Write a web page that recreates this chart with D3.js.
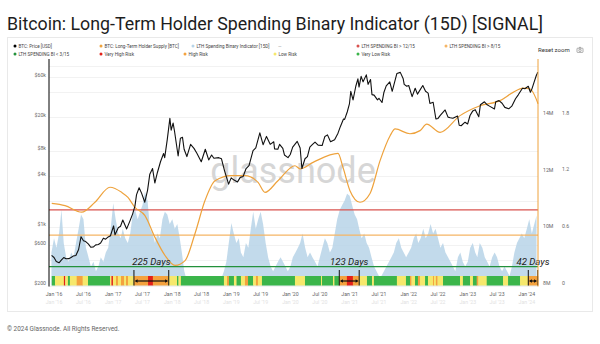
<!DOCTYPE html>
<html><head><meta charset="utf-8">
<script src="https://cdn.jsdelivr.net/npm/d3@7"></script>
<style>
html,body{margin:0;padding:0;background:#fff;}
svg{display:block;font-family:Roboto,"Noto Sans",sans-serif;}
</style></head><body>
<svg id="chart" width="600" height="344"></svg>
<script>
// ---------------- DATA ----------------
const titleText = "Bitcoin: Long-Term Holder Spending Binary Indicator (15D) [SIGNAL]";
const footerText = "© 2024 Glassnode. All Rights Reserved.";

// BTC price [USD]
const priceSeries = [
["2015-12-17",455],["2016-01-01",430],["2016-01-15",385],["2016-02-01",372],["2016-02-15",400],["2016-03-01",430],["2016-03-15",415],
["2016-04-01",417],["2016-04-15",430],["2016-05-01",450],["2016-05-15",455],["2016-06-01",535],["2016-06-16",760],["2016-07-01",680],
["2016-07-15",665],["2016-08-01",620],["2016-08-15",570],["2016-09-01",575],["2016-09-15",608],["2016-10-01",615],["2016-10-15",640],
["2016-11-01",730],["2016-11-15",710],["2016-12-01",755],["2016-12-15",780],["2017-01-03",1020],["2017-01-12",800],["2017-02-01",970],
["2017-02-15",1010],["2017-03-01",1200],["2017-03-25",940],["2017-04-15",1180],["2017-05-01",1420],["2017-05-15",1750],["2017-05-25",2400],
["2017-06-10",2900],["2017-06-25",2500],["2017-07-15",1950],["2017-08-01",2700],["2017-08-15",4200],["2017-09-01",4900],["2017-09-15",3300],
["2017-10-01",4400],["2017-10-20",5900],["2017-11-08",7400],["2017-11-15",6600],["2017-12-01",10900],["2017-12-17",19300],["2017-12-25",14000],
["2018-01-06",17000],["2018-01-15",13500],["2018-02-06",6900],["2018-02-20",11200],["2018-03-05",11500],["2018-03-15",8300],["2018-04-01",6800],
["2018-04-24",9500],["2018-05-15",8500],["2018-06-01",7500],["2018-06-29",5900],["2018-07-24",8300],["2018-08-14",6200],["2018-09-01",7100],
["2018-09-15",6500],["2018-10-15",6600],["2018-11-01",6400],["2018-11-20",4600],["2018-12-15",3200],["2018-12-31",3800],["2019-01-15",3600],
["2019-02-08",3400],["2019-02-25",3850],["2019-03-15",3950],["2019-04-02",4900],["2019-04-20",5300],["2019-05-15",8000],["2019-06-01",8600],
["2019-06-26",13000],["2019-07-16",9400],["2019-08-06",11800],["2019-08-29",9500],["2019-09-20",10200],["2019-09-25",8400],["2019-10-15",8300],
["2019-10-26",9500],["2019-11-15",8500],["2019-11-25",7100],["2019-12-17",6600],["2019-12-31",7200],["2020-01-15",8800],["2020-02-12",10300],
["2020-03-01",8600],["2020-03-12",4900],["2020-03-31",6400],["2020-04-15",6800],["2020-04-30",8800],["2020-05-15",9400],["2020-06-01",10100],
["2020-06-20",9300],["2020-07-15",9200],["2020-08-01",11800],["2020-08-17",12300],["2020-09-05",10200],["2020-09-30",10800],["2020-10-21",12900],
["2020-11-05",15500],["2020-11-24",19000],["2020-12-01",18800],["2020-12-17",23000],["2020-12-31",29000],["2021-01-08",40500],["2021-01-22",32000],
["2021-02-08",46500],["2021-02-21",57000],["2021-02-28",45500],["2021-03-13",61000],["2021-03-25",52500],["2021-04-14",63500],["2021-04-25",49000],
["2021-05-10",56000],["2021-05-19",37000],["2021-06-01",36500],["2021-06-22",32000],["2021-07-01",33500],["2021-07-20",29800],["2021-08-01",39500],
["2021-08-15",47000],["2021-09-06",52500],["2021-09-21",40500],["2021-10-01",48000],["2021-10-20",66000],["2021-11-10",68000],["2021-11-28",57000],
["2021-12-04",49000],["2021-12-20",46500],["2022-01-01",47500],["2022-01-22",35000],["2022-02-10",44000],["2022-02-24",37500],["2022-03-29",47500],
["2022-04-15",40500],["2022-05-01",38500],["2022-05-12",29000],["2022-06-01",30000],["2022-06-18",19000],["2022-07-01",19300],["2022-07-15",21000],
["2022-08-14",24300],["2022-09-01",20000],["2022-09-15",19700],["2022-10-01",19400],["2022-10-30",20600],["2022-11-09",16000],["2022-11-21",15800],
["2022-12-15",17400],["2022-12-31",16550],["2023-01-15",20900],["2023-02-01",23700],["2023-02-16",24500],["2023-03-10",20200],["2023-03-20",28000],
["2023-04-14",30400],["2023-05-01",28000],["2023-05-15",27000],["2023-06-15",25000],["2023-06-23",30500],["2023-07-13",31400],["2023-08-01",29200],
["2023-08-18",26100],["2023-09-11",25100],["2023-09-30",27000],["2023-10-23",33000],["2023-11-09",36800],["2023-12-05",44000],["2023-12-20",43500],
["2024-01-10",46500],["2024-01-23",39500],["2024-02-01",43000],["2024-02-15",52000],["2024-02-28",62000],["2024-03-05",66000],["2024-03-08",68300]
];

// LTH supply [millions of BTC]
const supplySeries = [
["2015-12-18",10.90],["2016-03-09",10.82],["2016-06-20",10.59],["2016-09-10",10.94],["2016-12-12",11.47],["2017-02-22",11.29],
["2017-04-02",11.11],["2017-05-15",10.76],["2017-07-16",10.47],["2017-09-16",9.70],["2017-11-17",9.06],["2018-01-18",8.71],
["2018-03-21",8.88],["2018-05-21",9.83],["2018-07-22",11.00],["2018-09-22",11.70],["2019-01-03",11.88],["2019-03-26",11.88],
["2019-06-15",11.64],["2019-07-28",11.29],["2019-10-16",11.70],["2020-01-29",12.23],["2020-02-29",12.12],["2020-05-20",12.35],
["2020-10-21",12.67],["2020-11-21",12.17],["2021-01-03",11.35],["2021-03-06",10.94],["2021-05-07",11.25],["2021-07-08",12.41],
["2021-09-08",13.29],["2021-10-09",13.53],["2022-01-09",13.36],["2022-03-12",13.47],["2022-04-22",13.70],["2022-07-14",13.41],
["2022-11-14",14.00],["2023-03-18",14.35],["2023-07-19",14.53],["2023-10-08",14.82],["2023-12-09",14.97],["2024-01-21",14.94],
["2024-02-27",14.60],["2024-03-10",14.42]
];

// LTH Spending Binary Indicator [15D], semi-monthly from 2015-12-16 (16th / 1st)
const biValues = [0.35,
0.5,0.4,0.55,0.8,0.45,0.3,0.25,0.35,0.3,0.45,0.6,0.75,0.7,0.4,0.3,0.2,0.25,0.15,0.2,0.3,0.25,0.35,0.4,0.6,
0.87,0.7,0.55,0.5,0.6,0.5,0.45,0.55,0.75,0.8,0.7,0.78,0.85,0.99,0.9,0.6,0.55,0.45,0.55,0.5,0.7,0.78,0.75,0.65,
0.7,0.6,0.65,0.5,0.35,0.15,0.05,0.05,0.1,0.05,0.03,0.08,0.05,0.1,0.05,0.02,0.05,0.03,0.02,0.05,0.08,0.15,0.25,0.45,
0.66,0.55,0.45,0.5,0.35,0.3,0.45,0.4,0.6,0.78,0.6,0.7,0.78,0.65,0.45,0.3,0.2,0.15,0.2,0.25,0.3,0.25,0.2,0.15,
0.2,0.3,0.35,0.4,0.45,0.55,0.4,0.3,0.35,0.3,0.25,0.2,0.3,0.4,0.5,0.45,0.35,0.4,0.55,0.7,0.8,0.85,0.9,0.97,
0.95,0.85,0.75,0.7,0.6,0.5,0.55,0.45,0.4,0.3,0.2,0.15,0.1,0.1,0.15,0.2,0.25,0.3,0.35,0.45,0.5,0.4,0.35,0.3,
0.35,0.4,0.5,0.55,0.45,0.5,0.6,0.5,0.55,0.65,0.55,0.6,0.5,0.4,0.45,0.35,0.3,0.25,0.2,0.15,0.3,0.35,0.25,0.2,
0.25,0.4,0.45,0.35,0.3,0.45,0.4,0.3,0.25,0.2,0.3,0.35,0.3,0.2,0.15,0.2,0.15,0.1,0.2,0.35,0.45,0.5,0.55,0.5,
0.6,0.7,0.55,0.65,0.74];

// thresholds on the binary indicator
const thresholdValues = [12/15, 8/15, 3/15];
const thresholdNames = ["LTH SPENDING BI > 12/15","LTH SPENDING BI > 8/15","LTH SPENDING BI < 3/15"];

// risk band (start date of each run, category)
const bandStarts = ["2015-12-18","2016-01-07","2016-03-02","2016-03-10","2016-03-27","2016-04-08","2016-05-20","2016-06-26","2016-07-29",
"2016-12-12","2016-12-21","2016-12-30","2017-01-18","2017-01-30","2017-02-18","2017-03-09","2017-03-21","2017-04-02","2017-05-09",
"2017-08-04","2017-09-03","2017-12-08","2018-01-30","2018-02-08","2018-02-23","2018-11-16","2018-12-05","2018-12-17","2019-01-17",
"2019-02-02","2019-03-01","2019-03-26","2019-04-14","2019-05-15","2019-06-02","2019-06-14","2019-07-09","2020-01-29","2020-03-31",
"2020-07-08","2020-07-14","2020-09-20","2020-09-29","2020-10-27","2020-12-15","2021-01-21","2021-02-27","2021-04-18","2021-05-19",
"2021-05-31","2021-10-20","2021-12-15","2022-01-09","2022-01-18","2022-02-09","2022-02-27","2022-03-12","2022-04-12","2022-04-30",
"2022-05-31","2022-06-06","2022-06-18","2022-06-28","2022-08-01","2022-11-14","2022-12-02","2023-01-15","2023-02-02","2023-02-25",
"2023-03-07","2023-04-28","2023-08-07","2023-09-07","2023-11-20","2024-01-08"];
const bandCats = ["G","Y","R","Y","G","Y","O","Y","G",
"Y","R","Y","O","Y","O","Y","O","Y","O",
"R","O","Y","G","Y","G","Y","O","G","Y",
"G","Y","O","G","Y","O","Y","G","Y","G",
"Y","G","Y","G","O","R","O","Y","G","Y",
"G","Y","G","O","Y","G","O","Y","G","Y",
"O","Y","O","Y","G","Y","G","Y","G","O",
"Y","G","Y","G","Y","O"];
const bandEnd = "2024-03-10";
const riskNames = {R:"Very High Risk",O:"High Risk",Y:"Low Risk",G:"Very Low Risk"};

// signal brackets
const bracketStarts = ["2017-05-09","2020-10-29","2024-01-10"];
const bracketEnds   = ["2017-12-10","2021-03-01","2024-03-08"];
const bracketLabels = ["225 Days","123 Days","42 Days"];

// axis ticks
const priceTicks = [200,600,1000,4000,8000,20000,60000];
const priceTickLabels = ["$200","$600","$1k","$4k","$8k","$20k","$60k"];
const priceGrid = [200,400,600,1000,2000,4000,8000,20000,40000,60000,80000];
const supplyTicks = [8,10,12,14];
const supplyTickLabels = ["8M","10M","12M","14M"];
const biTicks = [0,0.6,1.2,1.8];
const biTickLabels = ["0","0.6","1.2","1.8"];
const xTickDates = ["2016-01-01","2016-07-01","2017-01-01","2017-07-01","2018-01-01","2018-07-01","2019-01-01","2019-07-01",
"2020-01-01","2020-07-01","2021-01-01","2021-07-01","2022-01-01","2022-07-01","2023-01-01","2023-07-01","2024-01-01"];
const xTickLabels = ["Jan '16","Jul '16","Jan '17","Jul '17","Jan '18","Jul '18","Jan '19","Jul '19",
"Jan '20","Jul '20","Jan '21","Jul '21","Jan '22","Jul '22","Jan '23","Jul '23","Jan '24"];

// ---------------- DRAW ----------------
const C = {black:"#111", orange:"#eea23c", blue:"#b7d4e8", red:"#d9534f", thOrange:"#f5b565", green:"#23913b",
  band:{G:"#3bb54a",Y:"#f6e86c",O:"#f4a23e",R:"#e32119"}};
const P = d3.timeParse("%Y-%m-%d");
const svg = d3.select("#chart");
const L = 49, R = 538, T = 59, B = 285.5;

const x = d3.scaleTime().domain([P("2015-12-01"), P("2024-03-10")]).range([L, R]);
const yP = d3.scaleLog().domain([200, 98000]).range([B, T]);
const yS = d3.scaleLinear().domain([8, 16]).range([B, T]);
const yB = d3.scaleLinear().domain([0, 2.395]).range([B, T]);

// title
svg.append("text").attr("x",7).attr("y",30).attr("font-size",17.8).attr("fill","#1d1d1d").text(titleText);
// card
svg.append("rect").attr("x",7.5).attr("y",37.5).attr("width",585).attr("height",274).attr("fill","none").attr("stroke","#e9e9e9");

// legend
const legendItems = [
 {x:15,row:0,c:"#000",t:"BTC: Price [USD]"},
 {x:101,row:0,c:C.orange,t:"BTC: Long-Term Holder Supply [BTC]"},
 {x:193,row:0,c:C.blue,t:"LTH Spending Binary Indicator [15D]"},
 {x:278,row:0,c:null,t:"—"},
 {x:358,row:0,c:C.red,t:thresholdNames[0]},
 {x:446,row:0,c:C.thOrange,t:thresholdNames[1]},
 {x:15,row:1,c:C.green,t:thresholdNames[2]},
 {x:101,row:1,c:C.band.R,t:riskNames.R},
 {x:185,row:1,c:C.band.O,t:riskNames.O},
 {x:275,row:1,c:C.band.Y,t:riskNames.Y},
 {x:358,row:1,c:C.band.G,t:riskNames.G}
];
const lg = svg.append("g");
legendItems.forEach(d=>{
  const yy = d.row===0?46:54;
  if(d.c) lg.append("circle").attr("cx",d.x).attr("cy",yy).attr("r",1.5).attr("fill",d.c);
  lg.append("text").attr("x",d.c?d.x+3.5:d.x).attr("y",yy).attr("dy","0.35em").attr("font-size",4.6).attr("fill",d.c?"#444":"#999").text(d.t);
});
svg.append("text").attr("x",538).attr("y",50).attr("dy","0.35em").attr("font-size",6).attr("fill","#333").text("Reset zoom");
// camera icon
const cam = svg.append("g").attr("transform","translate(577,47)").attr("fill","none").attr("stroke","#777").attr("stroke-width",0.6);
cam.append("rect").attr("x",0).attr("y",1.2).attr("width",6).attr("height",4.2).attr("rx",0.6);
cam.append("circle").attr("cx",3).attr("cy",3.3).attr("r",1.2);
cam.append("path").attr("d","M2,1.2 L2.6,0.2 L3.4,0.2 L4,1.2");

// gridlines
svg.append("g").selectAll("line").data(priceGrid).join("line")
  .attr("x1",L).attr("x2",R).attr("y1",d=>Math.round(yP(d))+0.5).attr("y2",d=>Math.round(yP(d))+0.5)
  .attr("stroke","#ececec").attr("stroke-width",0.7);

// watermark
svg.append("text").attr("x",293).attr("y",183).attr("text-anchor","middle").attr("font-size",36)
  .attr("fill","#d6d6d6").attr("font-family","Roboto, sans-serif").text("glassnode");

// binary indicator area
const biDates = biValues.map((v,i)=>{const h=i+1; return new Date(2015, 11+Math.floor(h/2), h%2===0?1:16);});
const biData = biValues.map((v,i)=>({d:biDates[i],v}));
svg.append("path").datum(biData)
  .attr("d", d3.area().x(d=>x(d.d)).y0(yB(0)).y1(d=>yB(d.v)).curve(d3.curveLinear))
  .attr("fill",C.blue).attr("opacity",0.85);

// thresholds
const thColors = [C.red, C.thOrange, C.green];
svg.append("g").selectAll("line").data(thresholdValues).join("line")
  .attr("x1",L).attr("x2",R).attr("y1",d=>yB(d)).attr("y2",d=>yB(d))
  .attr("stroke",(d,i)=>thColors[i]).attr("stroke-width",1.3);

// risk band
const bandRuns = bandStarts.map((s,i)=>({s:P(s), e:P(i<bandStarts.length-1?bandStarts[i+1]:bandEnd), c:bandCats[i]}));
svg.append("g").selectAll("rect").data(bandRuns).join("rect")
  .attr("x",d=>x(d.s)).attr("width",d=>Math.max(0.5,x(d.e)-x(d.s)+0.3))
  .attr("y",276).attr("height",B-276).attr("fill",d=>C.band[d.c]);

// supply line
const sData = supplySeries.map(d=>({d:P(d[0]),v:d[1]}));
svg.append("path").datum(sData)
  .attr("d", d3.line().x(d=>x(d.d)).y(d=>yS(d.v)).curve(d3.curveMonotoneX))
  .attr("fill","none").attr("stroke",C.orange).attr("stroke-width",1.2);

// price line
const pData = priceSeries.map(d=>({d:P(d[0]),v:d[1]}));
svg.append("path").datum(pData)
  .attr("d", d3.line().x(d=>x(d.d)).y(d=>yP(d.v)))
  .attr("fill","none").attr("stroke",C.black).attr("stroke-width",1.1).attr("stroke-linejoin","round");

// brackets
const bg = svg.append("g");
bracketStarts.forEach((s,i)=>{
  const x0 = x(P(s)), x1 = x(P(bracketEnds[i])), ya = 281;
  bg.append("line").attr("x1",x0).attr("x2",x0).attr("y1",270).attr("y2",285.5).attr("stroke","#111").attr("stroke-width",1);
  bg.append("line").attr("x1",x1).attr("x2",x1).attr("y1",270).attr("y2",285.5).attr("stroke","#111").attr("stroke-width",1);
  bg.append("line").attr("x1",x0+2).attr("x2",x1-2).attr("y1",ya).attr("y2",ya).attr("stroke","#111").attr("stroke-width",1.2);
  bg.append("path").attr("d",`M${x0+0.6},${ya} L${x0+3.6},${ya-1.8} L${x0+3.6},${ya+1.8} Z`).attr("fill","#111");
  bg.append("path").attr("d",`M${x1-0.6},${ya} L${x1-3.6},${ya-1.8} L${x1-3.6},${ya+1.8} Z`).attr("fill","#111");
  bg.append("text").attr("x",(x0+x1)/2).attr("y",265).attr("text-anchor","middle").attr("font-size",9.6)
    .attr("font-style","italic").attr("fill","#222").text(bracketLabels[i]);
});

// axis lines
svg.append("line").attr("x1",L).attr("x2",L).attr("y1",T).attr("y2",B+1).attr("stroke","#000").attr("stroke-width",1);
svg.append("line").attr("x1",R).attr("x2",R).attr("y1",T).attr("y2",B+1).attr("stroke",C.orange).attr("stroke-width",1);

// left axis labels
svg.append("g").selectAll("text").data(priceTicks).join("text")
  .attr("x",46).attr("y",d=>yP(d)-2).attr("dy","0.35em").attr("text-anchor","end")
  .attr("font-size",5.2).attr("fill","#666").text((d,i)=>priceTickLabels[i]);
// right axis labels
svg.append("g").selectAll("text").data(supplyTicks).join("text")
  .attr("x",543).attr("y",d=>yS(d)-2.5).attr("dy","0.35em")
  .attr("font-size",5.2).attr("fill","#666").text((d,i)=>supplyTickLabels[i]);
svg.append("g").selectAll("text").data(biTicks).join("text")
  .attr("x",562).attr("y",d=>yB(d)-2.5).attr("dy","0.35em")
  .attr("font-size",5.2).attr("fill","#666").text((d,i)=>biTickLabels[i]);
// x labels
svg.append("g").selectAll("text").data(xTickDates).join("text")
  .attr("x",d=>x(P(d))).attr("y",294).attr("dy","0.35em").attr("text-anchor","middle")
  .attr("font-size",5.2).attr("fill","#666").text((d,i)=>xTickLabels[i]);
// faint navigator labels
svg.append("g").selectAll("text").data(xTickDates).join("text")
  .attr("x",d=>x(P(d))).attr("y",302.5).attr("dy","0.35em").attr("text-anchor","middle")
  .attr("font-size",5.2).attr("fill","#e2e2e2").text((d,i)=>xTickLabels[i]);

// footer
svg.append("text").attr("x",7).attr("y",329).attr("dy","0.35em").attr("font-size",6.4).attr("fill","#666").text(footerText);
</script></body></html>
